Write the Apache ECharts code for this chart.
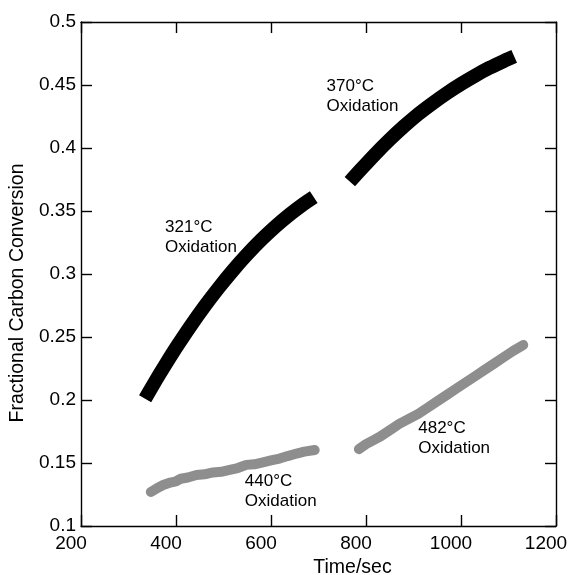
<!DOCTYPE html>
<html>
<head>
<meta charset="utf-8">
<script src="https://cdn.jsdelivr.net/npm/echarts@6/dist/echarts.min.js"></script>
<style>
  html, body { margin: 0; padding: 0; background: #fff; }
  #main { width: 571px; height: 575px; }
</style>
</head>
<body>
<div id="main"></div>
<script>
// datos (tiempo en s, conversion fraccional)
var t321 = [335, 350, 366, 385, 405, 430, 460, 490, 520, 550, 580, 610, 640, 665, 690];
var c321 = [0.201, 0.2108, 0.2209, 0.2325, 0.2443, 0.2584, 0.2743, 0.2891, 0.3029, 0.3156, 0.3273, 0.3379, 0.3474, 0.3546, 0.361];

var t370 = [766, 790, 820, 850, 880, 910, 940, 970, 1000, 1030, 1060, 1090, 1112];
var c370 = [0.3733, 0.3833, 0.3954, 0.4067, 0.4172, 0.4269, 0.4355, 0.4435, 0.4508, 0.4575, 0.4636, 0.469, 0.4727];

var t440 = [347, 360, 373, 388, 400, 410, 425, 443, 460, 478, 495, 513, 530, 548, 565, 583, 600, 618, 635, 654, 670, 692];
var c440 = [0.127, 0.130, 0.1325, 0.1345, 0.1355, 0.1375, 0.1385, 0.1405, 0.141, 0.1425, 0.143, 0.1445, 0.146, 0.1485, 0.149, 0.1505, 0.152, 0.1535, 0.1555, 0.1575, 0.159, 0.1603];

var t482 = [785, 800, 815, 830, 850, 870, 890, 910, 930, 950, 970, 990, 1010, 1030, 1050, 1070, 1090, 1110, 1131];
var c482 = [0.161, 0.165, 0.168, 0.171, 0.176, 0.181, 0.185, 0.189, 0.194, 0.199, 0.204, 0.209, 0.214, 0.219, 0.224, 0.229, 0.234, 0.239, 0.2437];

// etiquetas: texto y punto de anclaje (esquina sup. izq.) en coordenadas de datos
var notas = ['321°C\nOxidation', '370°C\nOxidation', '440°C\nOxidation', '482°C\nOxidation'];
var notasX = [377, 717, 545, 910];
var notasY = [0.3452, 0.4566, 0.1431, 0.1855];

var FONT = 'Liberation Sans, Arial, Helvetica, sans-serif';

function pares(xs, ys) {
  return xs.map(function (x, i) { return [x, ys[i]]; });
}

function serieNegra(xs, ys) {
  return {
    type: 'line',
    data: pares(xs, ys),
    showSymbol: false,
    smooth: 0.3,
    lineStyle: { color: '#000', width: 14, cap: 'butt', join: 'round' },
    z: 3
  };
}

function serieGris(xs, ys) {
  return {
    type: 'line',
    data: pares(xs, ys),
    showSymbol: false,
    lineStyle: { color: '#8e8e8e', width: 10, cap: 'round', join: 'round' },
    z: 2
  };
}

function ejeX(pos, conEtiquetas) {
  return {
    type: 'value', position: pos, min: 200, max: 1200, interval: 200,
    name: conEtiquetas ? 'Time/sec' : '', nameLocation: 'middle', nameGap: 26,
    nameTextStyle: { color: '#000', fontSize: 19.5, fontFamily: FONT, padding: [0, 0, 0, 68] },
    axisLine: { show: true, onZero: false, lineStyle: { color: '#000', width: 1.4 } },
    axisTick: { show: true, inside: true, length: 11, lineStyle: { color: '#000', width: 1.4 } },
    axisLabel: {
      show: conEtiquetas, color: '#000', fontSize: 19, fontFamily: FONT, margin: 8,
      padding: [0, 20, 0, 0],
      formatter: function (v) { return String(v); }
    },
    splitLine: { show: false }
  };
}

function ejeY(pos, conEtiquetas) {
  return {
    type: 'value', position: pos, min: 0.1, max: 0.5, interval: 0.05,
    name: conEtiquetas ? 'Fractional Carbon Conversion' : '', nameLocation: 'middle', nameGap: 45,
    nameTextStyle: { color: '#000', fontSize: 19.5, fontFamily: FONT, padding: [0, 38, 0, 0] },
    axisLine: { show: true, onZero: false, lineStyle: { color: '#000', width: 1.4 } },
    axisTick: { show: true, inside: true, length: 11, lineStyle: { color: '#000', width: 1.4 } },
    axisLabel: { show: conEtiquetas, color: '#000', fontSize: 19, fontFamily: FONT, margin: 5, padding: [0, 0, 3, 0] },
    splitLine: { show: false }
  };
}

var myChart = echarts.init(document.getElementById('main'));

var option = {
  animation: false,
  backgroundColor: '#fff',
  grid: { left: 81, top: 22, right: 15, bottom: 49, outerBoundsMode: 'none', containLabel: false },
  xAxis: [ejeX('bottom', true), ejeX('top', false)],
  yAxis: [ejeY('left', true), ejeY('right', false)],
  series: [
    serieNegra(t321, c321),
    serieNegra(t370, c370),
    serieGris(t440, c440),
    serieGris(t482, c482),
    {
      type: 'scatter',
      symbolSize: 0.01,
      itemStyle: { opacity: 1 },
      data: notasX.map(function (x, i) { return { value: [x, notasY[i]], name: notas[i] }; }),
      label: {
        show: true,
        position: [0, 0],
        align: 'left',
        verticalAlign: 'top',
        formatter: function (p) { return p.name; },
        color: '#000',
        opacity: 1,
        fontSize: 17,
        lineHeight: 20,
        fontFamily: FONT
      },
      z: 5
    }
  ]
};

myChart.setOption(option);
</script>
</body>
</html>
